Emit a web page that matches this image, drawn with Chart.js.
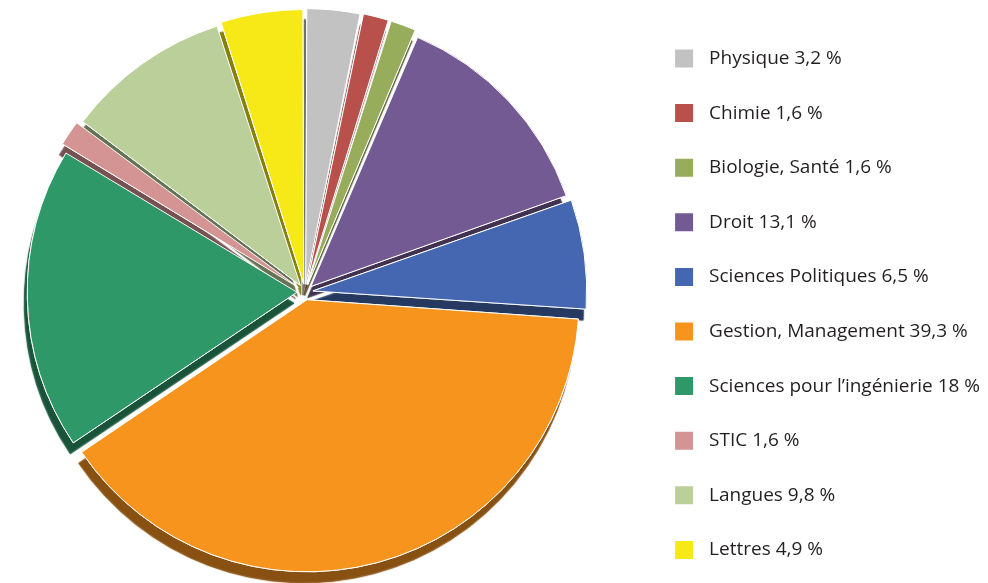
<!DOCTYPE html>
<html>
<head>
<meta charset="utf-8">
<script src="https://cdn.jsdelivr.net/npm/chart.js@4/dist/chart.umd.min.js"></script>
<style>
  html, body { margin: 0; padding: 0; background: #fff; overflow: hidden; }
  #wrap { width: 1023px; height: 583px; position: absolute; left: -35px; top: 0; }
</style>
</head>
<body>
<div id="wrap"><canvas id="myChart"></canvas></div>
<script>
const categories = [
    'Physique',
    'Chimie',
    'Biologie, Santé',
    'Droit',
    'Sciences Politiques',
    'Gestion, Management',
    'Sciences pour l’ingénierie',
    'STIC',
    'Langues',
    'Lettres'
];

const shares = [3.2, 1.6, 1.6, 13.1, 6.5, 39.3, 18, 1.6, 9.8, 4.9];

const sliceColors = [
    '#c2c2c2',
    '#b8504b',
    '#97ad5b',
    '#745a92',
    '#4567b1',
    '#f7941e',
    '#2e9869',
    '#d49494',
    '#bacf99',
    '#f7e917'
];

// darker tone of each slice for the raised edge
function darken(hex, f) {
    const n = parseInt(hex.slice(1), 16);
    const r = Math.round(((n >> 16) & 255) * f);
    const g = Math.round(((n >> 8) & 255) * f);
    const b = Math.round((n & 255) * f);
    return 'rgb(' + r + ',' + g + ',' + b + ')';
}
const edgeColors = sliceColors.map((c) => darken(c, 0.55));

function formatShare(v) {
    return String(v).replace('.', ',') + ' %';
}

const sliceEdges = {
    id: 'sliceEdges',
    beforeDatasetDraw(chart, args) {
        const ctx = chart.ctx;
        args.meta.data.forEach((arc, i) => {
            ctx.save();
            ctx.shadowColor = edgeColors[i];
            ctx.shadowOffsetX = -3;
            ctx.shadowOffsetY = 11;
            ctx.shadowBlur = 1;
            arc.draw(ctx);
            ctx.restore();
        });
    }
};

var ctx = document.getElementById('myChart').getContext('2d');
var chart = new Chart(ctx, { //eslint-disable-line
    type: 'pie',
    data: {
        labels: categories,
        datasets: [{
            data: shares,
            backgroundColor: sliceColors,
            borderColor: '#ffffff',
            borderWidth: 1,
            offset: 32, // arcs move offset / 4 px
            radius: 269
        }]
    },
    plugins: [sliceEdges],
    options: {
        responsive: true,
        maintainAspectRatio: false,
        animation: false,
        layout: {
            padding: { left: 0, right: -2, top: 1, bottom: -6 }
        },
        plugins: {
            tooltip: { enabled: false },
            legend: {
                position: 'right',
                align: 'end',
                labels: {
                    boxWidth: 31,
                    boxHeight: 31,
                    padding: 23.6,
                    color: '#231f20',
                    font: { family: "'Open Sans', sans-serif", size: 19 },
                    generateLabels() {
                        return categories.map((name, i) => ({
                            text: name + ' ' + formatShare(shares[i]),
                            fillStyle: sliceColors[i],
                            strokeStyle: '#ffffff',
                            lineWidth: 13,
                            fontColor: '#231f20',
                            hidden: false,
                            index: i
                        }));
                    }
                }
            }
        }
    }
});
</script>
</body>
</html>
